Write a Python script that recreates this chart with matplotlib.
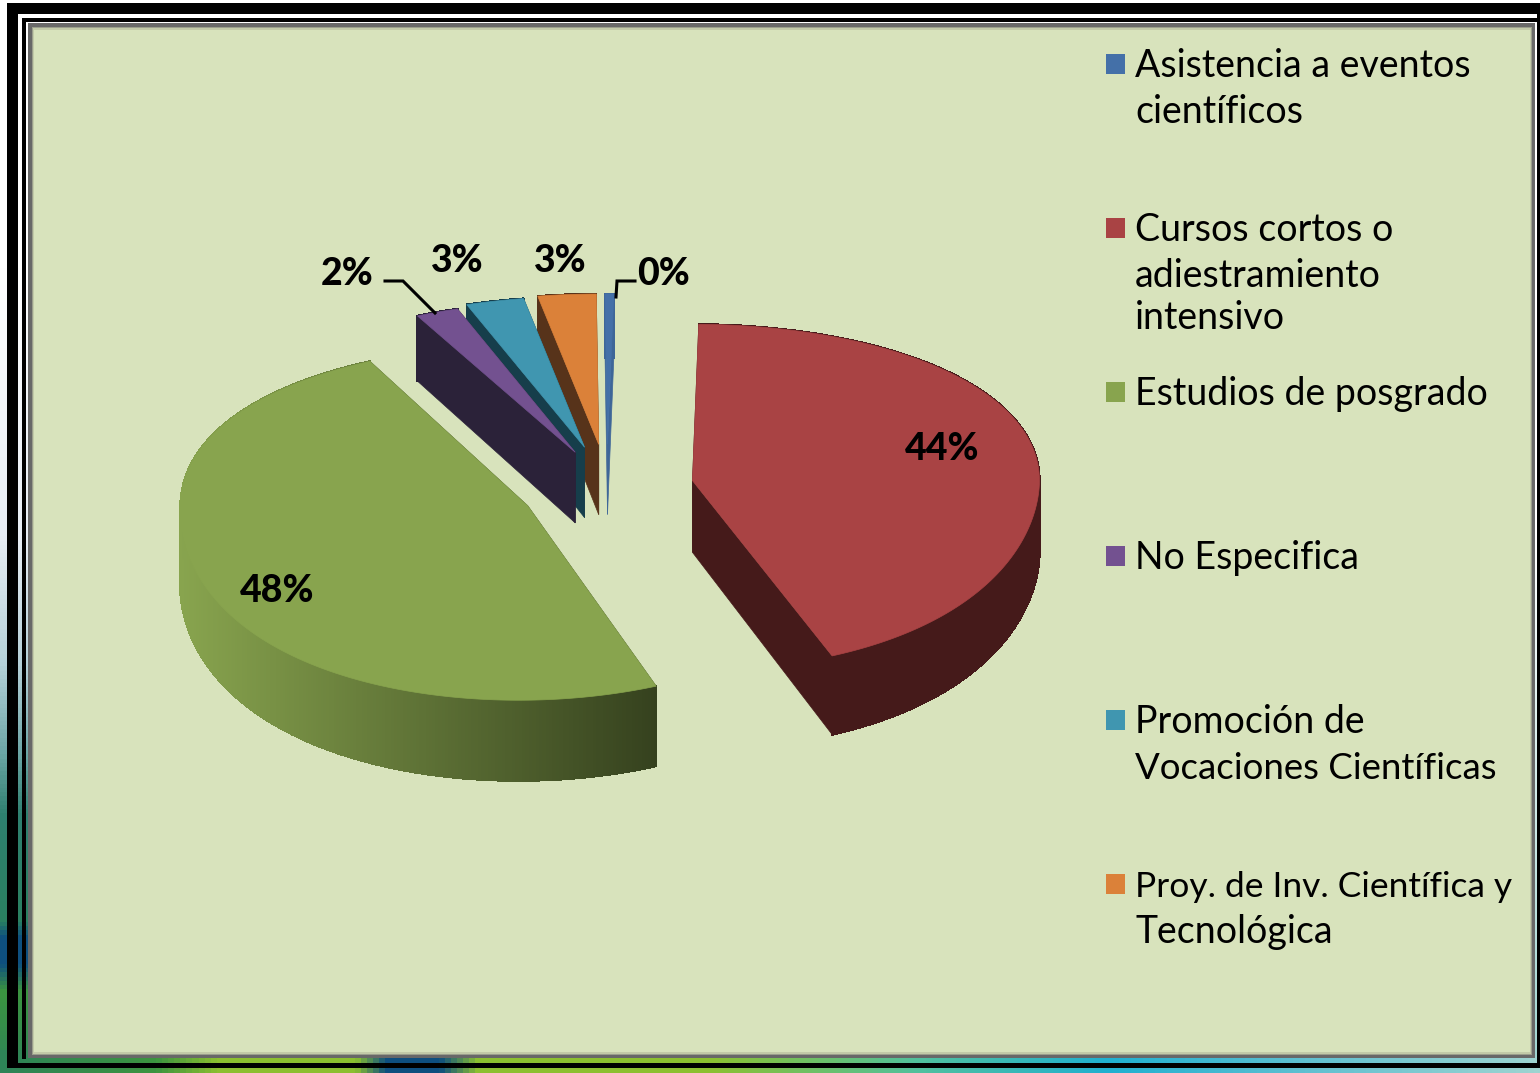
import numpy as np
import matplotlib
matplotlib.use("Agg")
import matplotlib.pyplot as plt
from matplotlib.collections import PolyCollection
from matplotlib.colors import to_rgb, LinearSegmentedColormap
from matplotlib.patches import Rectangle, Polygon

# ---------- data ----------
categories = [
    ["Asistencia a eventos", "científicos"],
    ["Cursos cortos o", "adiestramiento", "intensivo"],
    ["Estudios de posgrado"],
    ["No Especifica"],
    ["Promoción de", "Vocaciones Científicas"],
    ["Proy. de Inv. Científica y", "Tecnológica"],
]
values = [0.4, 43.9, 48.3, 2.0, 2.7, 2.7]
pct_labels = ["0%", "44%", "48%", "2%", "3%", "3%"]

# ---------- style ----------
top_colors = ["#4470A8", "#A94344", "#88A44E", "#735190", "#4096B0", "#DB8139"]
wall_light = ["#3E6698", "#451A1A", "#88A44E", "#2B2239", "#163E4B", "#57331A"]
wall_dark = ["#3E6698", "#451A1A", "#35411E", "#2B2239", "#163E4B", "#57331A"]
explode = [0.26, 0.25, 0.25, 0.23, 0.25, 0.26]
label_xy = [(664, 274), (942, 449), (277, 591), (347, 274), (457, 261), (560, 261)]
legend_sizes = [[27, 27], [27, 27, 27], [27], [27], [27, 26.4], [25.5, 27]]
PANEL = "#D8E3BC"

W, H = 1540, 1073
CX, CY, A, B, K, DEPTH = 607, 488, 347, 172.5, 0.095, 72
START = -0.4

fig = plt.figure(figsize=(W / 100, H / 100), dpi=100)
ax = fig.add_axes([0, 0, 1, 1])
ax.set_xlim(0, W)
ax.set_ylim(H, 0)
ax.axis("off")


def project(u, v, z=0.0):
    s = 1 / (1 + K * v)
    sx = 1 + K * np.minimum(v, 0) ** 2
    return CX + A * u * sx, CY - B * v * s + DEPTH * z * s


# ---------- frame ----------
left_c = LinearSegmentedColormap.from_list("l", [
    (0, "#FFFFFF"), (0.25, "#FFFFFF"), (0.5, "#E8EEF5"), (0.62, "#B5D0D8"),
    (0.70, "#6FA8A8"), (0.76, "#2F8070"), (0.86, "#2A8060"), (0.875, "#0E4F7F"),
    (0.90, "#0E4F7F"), (0.925, "#3C9440"), (1, "#2E8458")])
bottom_c = LinearSegmentedColormap.from_list("b", [
    (0, "#2E8458"), (0.10, "#3C9440"), (0.14, "#8CBF30"), (0.23, "#8CBF30"), (0.25, "#0E4F7F"),
    (0.285, "#0E4F7F"), (0.31, "#8CC030"), (0.46, "#8CC030"), (0.60, "#50C0A0"),
    (0.72, "#20B0D0"), (0.85, "#60C0D0"), (1, "#9ED4D0")])
right_c = LinearSegmentedColormap.from_list("r", ["#FFFFFF", "#FFFFFF", "#9ED4D0"])
ys = (np.arange(H) + 0.5) / H
xs = (np.arange(W) + 0.5) / W
bg = np.ones((H, W, 3))
bg[:, :40] = left_c(ys)[:, None, :3]
bg[:, 40:] = right_c(ys)[:, None, :3]
bg[1050:, :] = bottom_c(xs)[None, :, :3]


def box(x0, y0, x1, y1, c, z=1, alpha=None):
    ax.add_patch(Rectangle((x0, y0), x1 - x0, y1 - y0, fc=c, ec="none", zorder=z, alpha=alpha))


ax.imshow(bg, extent=(0, W, H, 0), aspect="auto", zorder=1)
box(7, 3, W, 1068, "black", 1.1)
im2 = ax.imshow(bg, extent=(0, W, H, 0), aspect="auto", zorder=1.2)
im2.set_clip_path(Rectangle((18, 14), 1519, 1049, transform=ax.transData))
box(22, 18, W - 3, 1059, "black", 1.3)
im3 = ax.imshow(bg, extent=(0, W, H, 0), aspect="auto", zorder=1.4)
im3.set_clip_path(Rectangle((26, 22), 1511, 1037, transform=ax.transData))
box(28, 23, 1535, 1058, "#686868", 1.5)
box(32, 27, 1532, 1055, "#9A9E8C", 1.6)
box(33, 28, 1531, 1054, "#C2CAA8", 1.7)
box(34, 30, 1530, 1052, PANEL, 1.8)
ax.set_xlim(0, W)
ax.set_ylim(H, 0)

# ---------- pie ----------
fractions = np.array(values) / np.sum(values)
edges = np.radians(START + 360 * np.concatenate([[0], np.cumsum(fractions)]))
mids = (edges[:-1] + edges[1:]) / 2
order = np.argsort(-np.cos(mids))

for rank, i in enumerate(order):
    z = 3 + rank * 0.1
    ou, ov = explode[i] * np.sin(mids[i]), explode[i] * np.cos(mids[i])
    n = max(4, int(np.degrees(edges[i + 1] - edges[i]) * 2))
    t = np.linspace(edges[i], edges[i + 1], n)
    ru, rv = ou + np.sin(t), ov + np.cos(t)
    tx, ty = project(ru, rv)
    bx, by = project(ru, rv, 1)
    ax_, ay_ = project(ou, ov)
    axb, ayb = project(ou, ov, 1)

    light, dark = np.array(to_rgb(wall_light[i])), np.array(to_rgb(wall_dark[i]))
    # radial walls
    for j in (0, -1):
        ax.add_patch(Polygon([(ax_, ay_), (tx[j], ty[j]), (bx[j], by[j]), (axb, ayb)],
                             fc=dark, ec=dark, lw=0.5, zorder=z))
    # outer wall
    quads, cols = [], []
    span = max(tx.max() - tx.min(), 1)
    for j in range(n - 1):
        quads.append([(tx[j], ty[j]), (tx[j + 1], ty[j + 1]), (bx[j + 1], by[j + 1]), (bx[j], by[j])])
        f = ((tx[j] + tx[j + 1]) / 2 - tx.min()) / span
        cols.append(light * (1 - f) + dark * f)
    ax.add_collection(PolyCollection(quads, facecolors=cols, edgecolors=cols, linewidths=1.0,
                                     antialiaseds=False, zorder=z + 0.01))
    # top face
    ax.add_patch(Polygon(np.column_stack([np.r_[ax_, tx], np.r_[ay_, ty]]),
                         fc=top_colors[i], ec=top_colors[i], lw=0.5, zorder=z + 0.02))

# ---------- data labels ----------
for txt, (x, y) in zip(pct_labels, label_xy):
    ax.text(x, y, txt, family="Lato", weight="black", fontsize=27, ha="center", va="center", color="black", zorder=6)
ax.plot([385, 403, 435], [281, 281, 313], color="black", lw=2.2, zorder=6, solid_joinstyle="miter")
ax.plot([635, 617, 616], [281, 281, 297], color="black", lw=2.2, zorder=6, solid_joinstyle="miter")

# ---------- legend ----------
for i, lines in enumerate(categories):
    box(1106, 54 + 164 * i, 1125, 74 + 164 * i, top_colors[i], 5)
    offs = [0, 46, 88]
    for ln, off, fs in zip(lines, offs, legend_sizes[i]):
        ax.text(1135, 77 + 164 * i + off, ln, family="Lato", fontsize=fs, ha="left", va="baseline",
                color="black", zorder=6)

fig.savefig("out.png", dpi=100, facecolor="white")
